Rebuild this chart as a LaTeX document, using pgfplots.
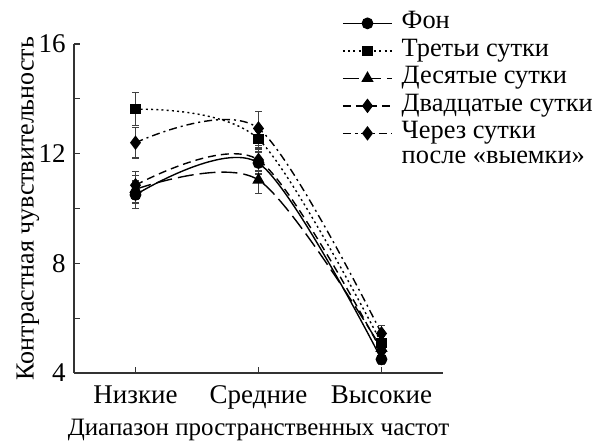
\documentclass[border=0pt]{standalone}
\usepackage{fontspec}
\setmainfont{Liberation Serif}
\usepackage{pgfplots}
\pgfplotsset{compat=1.18}
\begin{document}
\fontsize{13.5}{16}\selectfont
\begin{tikzpicture}
\begin{axis}[
  name=ax,
  scale only axis,
  width=184.5pt, height=164.5pt,
  xmin=-0.5, xmax=2.5, ymin=4, ymax=16,
  axis lines=left,
  axis line style={-, black!80, line width=0.6pt},
  xtick={0,1,2},
  xticklabels={Низкие, Средние, Высокие},
  ytick={4,8,12,16},
  minor ytick={6,10,14},
  tick align=inside,
  major tick length=3pt, minor tick length=3pt,
  tick style={black!80, line width=0.6pt},
  /pgf/number format/assume math mode=true,
  ticklabel style={font=\fontsize{13.5}{16}\selectfont},
  xticklabel style={yshift=-1.5pt},
  yticklabel style={xshift=0.5pt},
  xlabel={Диапазон пространственных частот},
  ylabel={Контрастная чувствительность},
  xlabel style={font=\fontsize{12.5}{15}\selectfont, yshift=4pt},
  ylabel style={font=\fontsize{13}{15}\selectfont, yshift=-9.5pt},
  legend style={draw=none, fill=none, at={(rel axis cs:0.726,1.105)}, anchor=north west,
    inner sep=0pt, row sep=0.25pt, column sep=3.5pt,
    nodes={font=\fontsize{13.2}{15}\selectfont, inner sep=1pt, text height=8.5pt, text depth=3pt}},
  legend cell align=left,
  legend image code/.code={\draw[mark repeat=2,mark phase=2,#1] plot coordinates {(0pt,0pt) (12.25pt,0pt) (24.5pt,0pt)};},
  every axis plot/.append style={black, line width=0.7pt, smooth, tension=0.5,
    mark options={solid, fill=black},
    error bars/y dir=both, error bars/y explicit,
    error bars/error bar style={solid, black!75, line width=0.6pt},
    error bars/error mark options={rotate=90, mark size=1.6pt, black!75, line width=0.6pt}},
  clip=false,
]
\addplot[solid, mark=*, mark size=2.6pt] coordinates {(0,10.5) +- (0,0.5) (1,11.66) +- (0,0.4) (2,4.5) +- (0,0.2)};
\addlegendentry{Фон}
\addplot[dash pattern=on 1pt off 1.6pt, mark=square*, mark size=2.2pt] coordinates {(0,13.62) +- (0,0.6) (1,12.53) +- (0,0.3) (2,5.09) +- (0,0.25)};
\addlegendentry{Третьи сутки}
\addplot[dash pattern=on 8pt off 3pt, mark=triangle*, mark size=2.9pt] coordinates {(0,10.7) +- (0,0.5) (1,11.04) +- (0,0.5) (2,4.9) +- (0,0.25)};
\addlegendentry{Десятые сутки}
\addplot[dash pattern=on 4pt off 2.5pt, mark=diamond*, mark size=3.1pt] coordinates {(0,10.85) +- (0,0.5) (1,11.77) +- (0,0.4) (2,4.8) +- (0,0.25)};
\addlegendentry{Двадцатые сутки}
\addplot[dash pattern=on 4pt off 2pt on 1pt off 2pt, mark=diamond*, mark size=3.1pt] coordinates {(0,12.4) +- (0,0.56) (1,12.92) +- (0,0.62) (2,5.44) +- (0,0.3)};
\addlegendentry{Через сутки}
\addlegendimage{empty legend}
\addlegendentry{\raisebox{1.5pt}{после «выемки»}}
\end{axis}
\pgfresetboundingbox
\path ([shift={(-37pt,-34pt)}]ax.south west) rectangle ([shift={(266pt,186.5pt)}]ax.south west);
\end{tikzpicture}
\end{document}
